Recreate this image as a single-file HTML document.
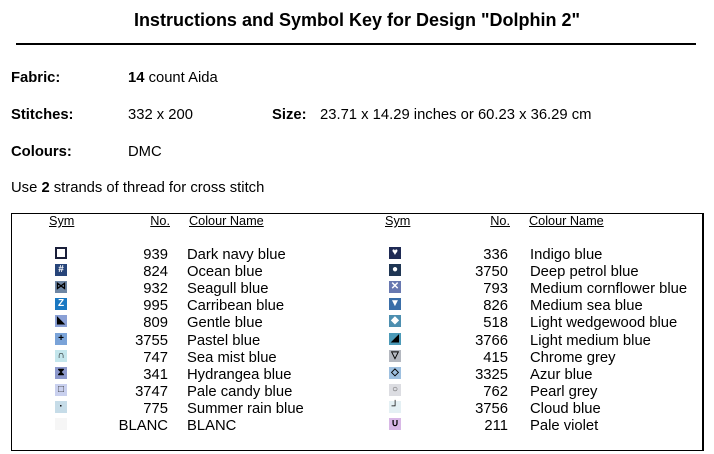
<!DOCTYPE html>
<html><head><style>
body{margin:0;width:714px;height:454px;background:#fff;font-family:"Liberation Sans",Arial,sans-serif;color:#000;position:relative;overflow:hidden}
.a{position:absolute;white-space:nowrap}
.t{font-size:14.8px;line-height:16px}
.b{font-weight:bold}
.h{font-size:12.7px;text-decoration:underline;top:214px}
.n{text-align:right;width:80px}
.s{position:absolute;width:12px;height:12px;font-size:10px;line-height:12px;text-align:center;font-weight:bold}
</style></head><body>
<div class="a b" style="left:0;width:714px;text-align:center;top:10px;font-size:18px">Instructions and Symbol Key for Design "Dolphin 2"</div>
<div class="a" style="left:16px;top:43px;width:680px;height:2px;background:#000"></div>
<div class="a t b" style="left:11px;top:70px">Fabric:</div>
<div class="a t" style="left:128px;top:70px"><b>14</b> count Aida</div>
<div class="a t b" style="left:11px;top:107px">Stitches:</div>
<div class="a t" style="left:128px;top:107px">332 x 200</div>
<div class="a t b" style="left:272px;top:107px">Size:</div>
<div class="a t" style="left:320px;top:107px">23.71 x 14.29 inches or 60.23 x 36.29 cm</div>
<div class="a t b" style="left:11px;top:144px">Colours:</div>
<div class="a t" style="left:128px;top:144px">DMC</div>
<div class="a t" style="left:11px;top:180px">Use <b>2</b> strands of thread for cross stitch</div>
<div class="a" style="left:11px;top:213px;width:690px;height:236px;border:1px solid #000;border-right-width:2px"></div>
<div class="a h" style="left:49px">Sym</div>
<div class="a h n" style="left:90px">No.</div>
<div class="a h" style="left:189px">Colour Name</div>
<div class="a h" style="left:385px">Sym</div>
<div class="a h n" style="left:430px">No.</div>
<div class="a h" style="left:529px">Colour Name</div>
<div id="rows"></div>
<script>
var L=[["939","Dark navy blue","#fff","","border:2px solid #1a1f3a;width:8px;height:8px"],
["824","Ocean blue","#27457a","#","color:#fff"],["932","Seagull blue","#6e86a4","⋈","color:#000"],
["995","Carribean blue","#1a78c2","Z","color:#fff"],["809","Gentle blue","#8aa0d6","◣","color:#000"],
["3755","Pastel blue","#7aa3d8","+","color:#000"],["747","Sea mist blue","#c4e6ec","∩","color:#000"],
["341","Hydrangea blue","#8c98cc","⧗","color:#000"],["3747","Pale candy blue","#c9d0ee","□","color:#333"],
["775","Summer rain blue","#c6dce8","·","color:#000"],["BLANC","BLANC","#f6f6f6","",""]];
var R=[["336","Indigo blue","#1e2a54","♥","color:#fff"],["3750","Deep petrol blue","#1f3654","●","color:#fff"],
["793","Medium cornflower blue","#6878b0","✕","color:#fff"],["826","Medium sea blue","#3a6ea8","▼","color:#fff"],
["518","Light wedgewood blue","#4d8fb0","◆","color:#fff"],["3766","Light medium blue","#4c9ab8","◢","color:#000"],
["415","Chrome grey","#b4b8c0","▽","color:#000"],["3325","Azur blue","#9ec0e0","◇","color:#000"],
["762","Pearl grey","#dcdde2","○","color:#555"],["3756","Cloud blue","#e4f0f4","┘","color:#000"],
["211","Pale violet","#d8b8e6","∪","color:#000"]];
var h="";
function add(a,sx,nx,cx){a.forEach(function(r,i){var y=247+i*17.1;
h+='<div class="s" style="left:'+sx+'px;top:'+(y)+'px;background:'+r[2]+';'+r[4]+'">'+r[3]+'</div>';
h+='<div class="a t n" style="left:'+nx+'px;top:'+y+'px">'+r[0]+'</div>';
h+='<div class="a t" style="left:'+cx+'px;top:'+y+'px">'+r[1]+'</div>';});}
add(L,55,88,187);add(R,389,428,530);
document.getElementById("rows").innerHTML=h;
</script>
</body></html>
